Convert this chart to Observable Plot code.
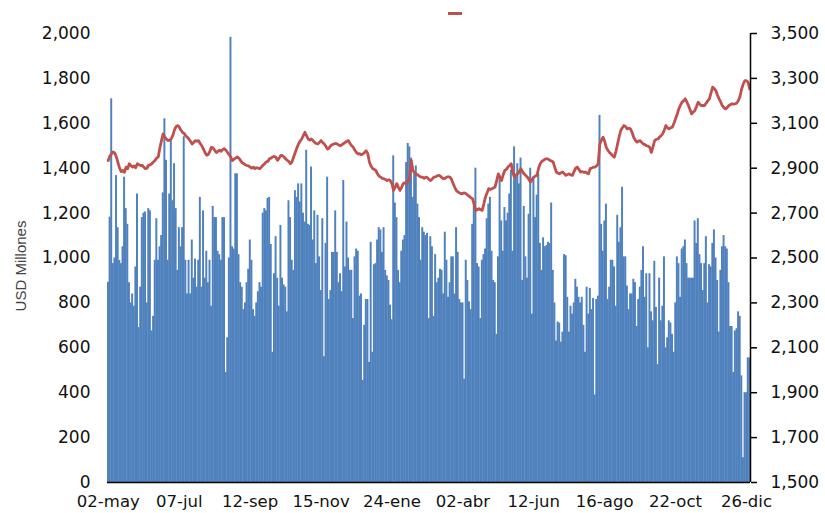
<!DOCTYPE html>
<html>
<head>
<meta charset="utf-8">
<script src="https://cdn.jsdelivr.net/npm/d3@7"></script>
<script src="https://cdn.jsdelivr.net/npm/@observablehq/plot@0.6"></script>
<style>
  html, body { margin: 0; padding: 0; background: #fff; }
  #wrap { position: relative; width: 825px; height: 513px; }
  #legendSwatch { position: absolute; left: 448px; top: 12px; width: 14px; height: 3px; background: #C0504D; }
</style>
</head>
<body>
<div id="wrap"><div id="legendSwatch"></div></div>
<script>
// Category tick labels (every 44 trading days)
const xLabels = ["02-may","07-jul","12-sep","15-nov","24-ene","02-abr","12-jun","16-ago","22-oct","26-dic"];
const yLabel = "USD Millones";

// Daily volume, USD millones (left axis)
const volumes = [
892,1182,1709,975,1000,1367,1135,989,975,1050,
1360,1220,1150,890,800,840,785,960,1285,690,
870,1180,1200,1205,800,1220,1210,675,740,990,
1175,990,1050,1100,1290,1620,1435,990,1285,1525,
1255,1420,1220,945,1135,1050,1135,1540,990,840,
990,840,1080,910,995,870,990,1270,870,1210,
910,1030,890,990,785,1230,1180,1180,1030,1015,
990,1180,1180,490,645,1000,1983,1050,1040,1375,
1375,1015,890,870,770,800,890,950,1080,990,
770,740,800,850,890,870,1200,1220,1210,1265,
1270,1060,580,930,1095,910,785,1145,910,880,
870,760,1255,1180,990,945,1300,1270,1330,1250,
1330,1200,1160,1480,1150,1145,1405,1080,1210,975,
1190,1005,855,1175,560,1065,1360,815,855,1025,
1025,1210,1025,890,930,850,1345,960,1160,1000,
945,945,730,1005,1040,1030,830,840,455,700,
815,815,535,1070,580,970,975,1080,1135,1125,
1025,1135,945,920,900,790,725,1455,1245,1180,
945,890,1030,1080,1100,1425,1510,1495,1445,1270,
1375,1410,1240,1180,990,1135,1115,1100,1110,730,
1095,1050,740,1015,890,910,950,945,840,1115,
990,825,890,1005,1005,840,1135,1025,815,800,
800,460,990,900,805,770,1150,1250,1400,975,
960,730,990,1015,1040,1175,1240,1270,1030,900,
890,660,1005,1365,1165,1030,1225,1165,1200,1285,
1390,1030,1495,1365,1420,1330,1445,900,1230,1005,
910,1195,1400,750,1360,1180,1280,1375,1065,945,
1090,1050,1055,1070,1065,1245,945,800,630,715,
710,625,670,1015,1010,825,670,785,750,800,
905,870,825,800,825,700,580,870,750,865,
770,820,390,815,830,1635,1150,1030,1165,1240,
815,870,990,990,960,785,1190,1070,1135,1315,
1005,1005,875,770,840,840,905,890,695,815,
870,945,1050,825,930,600,930,760,720,985,
780,525,910,720,785,1005,600,645,720,710,
660,580,800,1005,975,825,1040,1050,1080,975,
910,910,910,910,1165,1065,1175,1015,975,855,
975,1095,800,970,960,1065,1125,1000,900,670,
945,1050,1100,1050,1040,890,695,695,490,675,
685,760,740,475,110,400,400,555,555
];

// Exchange rate (right axis)
const rate = [
2934,2955,2964,2972,2968,2950,2925,2900,2885,2890,
2882,2905,2898,2920,2912,2905,2910,2902,2920,2915,
2912,2913,2905,2898,2900,2913,2915,2920,2928,2935,
2945,2950,2990,3023,3053,3040,3030,3023,3025,3030,
3045,3070,3085,3090,3083,3070,3060,3055,3045,3038,
3030,3020,3008,3015,3023,3020,3023,3010,3000,2985,
2970,2958,2961,2975,2993,2990,2980,2970,2975,2980,
2975,2983,2987,2980,2970,2960,2950,2934,2940,2945,
2950,2945,2935,2925,2920,2915,2912,2910,2905,2900,
2905,2898,2902,2900,2898,2905,2913,2920,2928,2930,
2942,2945,2950,2953,2948,2935,2945,2957,2956,2950,
2942,2935,2930,2920,2928,2950,2970,2990,3008,3020,
3030,3045,3060,3045,3030,3025,3030,3023,3015,3010,
3008,3015,3023,3015,3008,2998,2985,2990,3000,3005,
3008,3010,3008,3003,3000,3005,3010,3015,3020,3023,
3010,3000,2993,2980,2970,2963,2965,2960,2963,2970,
2978,2965,2928,2910,2898,2895,2890,2875,2865,2860,
2855,2853,2850,2845,2848,2845,2830,2801,2815,2831,
2815,2801,2815,2831,2835,2831,2840,2860,2935,2890,
2880,2875,2870,2865,2860,2860,2855,2860,2858,2850,
2845,2852,2860,2862,2865,2868,2865,2858,2853,2855,
2860,2862,2860,2850,2831,2815,2800,2794,2790,2786,
2788,2790,2786,2780,2775,2768,2764,2740,2712,2715,
2720,2715,2712,2740,2771,2790,2809,2805,2809,2812,
2816,2845,2875,2860,2845,2870,2890,2895,2905,2912,
2920,2880,2860,2870,2875,2885,2898,2885,2875,2868,
2860,2850,2838,2850,2860,2865,2868,2900,2920,2930,
2935,2940,2942,2940,2935,2932,2928,2905,2883,2878,
2875,2880,2883,2875,2868,2872,2875,2870,2868,2885,
2900,2905,2895,2883,2885,2882,2883,2878,2875,2898,
2900,2905,2905,2910,2920,3008,3025,3038,3020,2993,
2980,2970,2963,2955,2949,2975,3008,3040,3068,3080,
3090,3085,3075,3078,3075,3060,3038,3025,3016,3020,
3023,3015,3008,3005,3000,2998,2993,2970,2995,3023,
3028,3030,3038,3045,3053,3070,3090,3080,3075,3080,
3083,3100,3120,3140,3164,3180,3194,3200,3209,3195,
3179,3160,3142,3150,3157,3175,3194,3185,3179,3180,
3179,3190,3200,3209,3235,3261,3255,3246,3225,3209,
3195,3179,3170,3164,3170,3179,3183,3187,3185,3187,
3190,3202,3220,3253,3275,3290,3290,3283,3253
];

const leftDomain = [0, 2000];
const rightMin = 1500; // right axis spans 1,500 – 3,500 on the same pixel range
const labelEvery = 44;

const n = volumes.length;
const idx = d3.range(n);
const fmt = d3.format(",");
const font = "DejaVu Sans";

const chart = Plot.plot({
  width: 825,
  height: 513,
  marginLeft: 107,
  marginRight: 75,
  marginTop: 33,
  marginBottom: 31,
  style: {fontFamily: font, fontSize: "17px", color: "#111", background: "#fff"},
  x: {type: "linear", domain: [0, n], axis: null},
  y: {type: "linear", domain: leftDomain, axis: null},
  marks: [
    Plot.rectY(idx, {x: d => d, interval: 1, y: d => volumes[d], fill: "#4F81BD",
      insetLeft: 0, insetRight: -0.35}),
    Plot.line(idx, {x: d => d + 0.5, y: d => rate[d] - rightMin, stroke: "#C0504D", strokeWidth: 2.8, curve: "linear"}),
    Plot.ruleY([0], {stroke: "#000", strokeWidth: 1.5}),
    Plot.ruleX([n], {stroke: "#000", strokeWidth: 1.5}),
    Plot.axisY({anchor: "left", ticks: d3.range(0, 2001, 200), tickSize: 0, tickPadding: 17,
      tickFormat: fmt, label: null, fontSize: 17, fill: "#111"}),
    Plot.axisY({anchor: "right", ticks: d3.range(0, 2001, 200), tickSize: 6, tickPadding: 14,
      tickFormat: d => fmt(d + rightMin), label: null, fontSize: 17, fill: "#111", stroke: "#000", strokeWidth: 1.5}),
    Plot.axisX({anchor: "bottom", ticks: xLabels.map((_, i) => i * labelEvery + 0.5),
      tickFormat: v => xLabels[Math.round((v - 0.5) / labelEvery)], tickSize: 0, tickPadding: 13,
      label: null, fontSize: 16.5, fill: "#111"}),
    Plot.text([yLabel], {frameAnchor: "left", dx: -86, dy: 8, rotate: -90, text: d => d,
      fontSize: 15, fill: "#444", textAnchor: "middle", lineAnchor: "middle", fontFamily: "Liberation Sans"})
  ]
});
document.getElementById("wrap").prepend(chart);
</script>
</body>
</html>
